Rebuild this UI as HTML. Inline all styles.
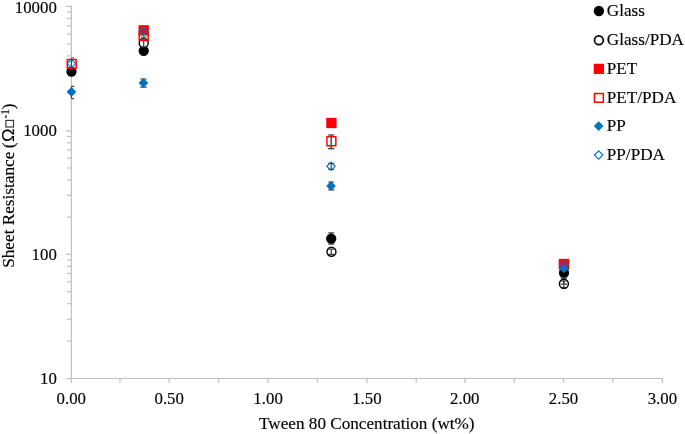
<!DOCTYPE html>
<html><head><meta charset="utf-8"><title>chart</title>
<style>
html,body{margin:0;padding:0;background:#fff;}
body{width:685px;height:434px;overflow:hidden;}
svg{display:block;will-change:transform;}
text{font-family:"Liberation Serif",serif;font-size:17.3px;fill:#000;stroke:#000;stroke-width:0.15px;}
</style></head><body>
<svg width="685" height="434" viewBox="0 0 685 434">
<rect width="685" height="434" fill="#fff"/>
<g stroke="#bfbfbf" stroke-width="1.2" fill="none">
<line x1="71.35" y1="5.86" x2="71.35" y2="382.98"/>
<line x1="65.95" y1="378.48" x2="663.00" y2="378.48"/>
<line x1="67.05" y1="341.09" x2="71.35" y2="341.09"/>
<line x1="67.05" y1="319.22" x2="71.35" y2="319.22"/>
<line x1="67.05" y1="303.70" x2="71.35" y2="303.70"/>
<line x1="67.05" y1="291.67" x2="71.35" y2="291.67"/>
<line x1="67.05" y1="281.83" x2="71.35" y2="281.83"/>
<line x1="67.05" y1="273.52" x2="71.35" y2="273.52"/>
<line x1="67.05" y1="266.32" x2="71.35" y2="266.32"/>
<line x1="67.05" y1="259.96" x2="71.35" y2="259.96"/>
<line x1="65.95" y1="254.28" x2="71.35" y2="254.28"/>
<line x1="67.05" y1="217.12" x2="71.35" y2="217.12"/>
<line x1="67.05" y1="195.38" x2="71.35" y2="195.38"/>
<line x1="67.05" y1="179.96" x2="71.35" y2="179.96"/>
<line x1="67.05" y1="167.99" x2="71.35" y2="167.99"/>
<line x1="67.05" y1="158.22" x2="71.35" y2="158.22"/>
<line x1="67.05" y1="149.95" x2="71.35" y2="149.95"/>
<line x1="67.05" y1="142.79" x2="71.35" y2="142.79"/>
<line x1="67.05" y1="136.48" x2="71.35" y2="136.48"/>
<line x1="65.95" y1="130.83" x2="71.35" y2="130.83"/>
<line x1="67.05" y1="93.39" x2="71.35" y2="93.39"/>
<line x1="67.05" y1="71.49" x2="71.35" y2="71.49"/>
<line x1="67.05" y1="55.95" x2="71.35" y2="55.95"/>
<line x1="67.05" y1="43.90" x2="71.35" y2="43.90"/>
<line x1="67.05" y1="34.05" x2="71.35" y2="34.05"/>
<line x1="67.05" y1="25.73" x2="71.35" y2="25.73"/>
<line x1="67.05" y1="18.51" x2="71.35" y2="18.51"/>
<line x1="67.05" y1="12.15" x2="71.35" y2="12.15"/>
<line x1="65.95" y1="6.46" x2="71.35" y2="6.46"/>
<line x1="119.98" y1="378.48" x2="119.98" y2="382.68"/>
<line x1="169.20" y1="378.48" x2="169.20" y2="382.98"/>
<line x1="218.67" y1="378.48" x2="218.67" y2="382.68"/>
<line x1="268.09" y1="378.48" x2="268.09" y2="382.98"/>
<line x1="317.44" y1="378.48" x2="317.44" y2="382.68"/>
<line x1="366.86" y1="378.48" x2="366.86" y2="382.98"/>
<line x1="416.20" y1="378.48" x2="416.20" y2="382.68"/>
<line x1="464.80" y1="378.48" x2="464.80" y2="382.98"/>
<line x1="514.17" y1="378.48" x2="514.17" y2="382.68"/>
<line x1="563.49" y1="378.48" x2="563.49" y2="382.98"/>
<line x1="613.05" y1="378.48" x2="613.05" y2="382.68"/>
<line x1="662.40" y1="378.48" x2="662.40" y2="382.98"/>
</g>
<text transform="translate(56.80 12.60) scale(0.973 1)" text-anchor="end">10000</text>
<text transform="translate(56.80 135.90) scale(0.973 1)" text-anchor="end">1000</text>
<text transform="translate(56.80 259.90) scale(0.973 1)" text-anchor="end">100</text>
<text transform="translate(56.80 383.50) scale(0.973 1)" text-anchor="end">10</text>
<text transform="translate(71.24 404.30) scale(0.973 1)" text-anchor="middle">0.00</text>
<text transform="translate(169.20 404.30) scale(0.973 1)" text-anchor="middle">0.50</text>
<text transform="translate(268.09 404.30) scale(0.973 1)" text-anchor="middle">1.00</text>
<text transform="translate(366.86 404.30) scale(0.973 1)" text-anchor="middle">1.50</text>
<text transform="translate(464.80 404.30) scale(0.973 1)" text-anchor="middle">2.00</text>
<text transform="translate(563.49 404.30) scale(0.973 1)" text-anchor="middle">2.50</text>
<text transform="translate(662.40 404.30) scale(0.973 1)" text-anchor="middle">3.00</text>
<text transform="translate(366.80 428.80) scale(0.992 1)" text-anchor="middle">Tween 80 Concentration (wt%)</text>
<text transform="translate(13.90 267.80) rotate(-90) scale(1.007 1)" style="font-size:17.1px;">Sheet Resistance</text>
<text transform="translate(13.90 148.20) rotate(-90) scale(1.007 1)" style="font-size:17.1px;">(</text>
<text transform="translate(14.1 142.0) rotate(-90) scale(1.10 1)" style="font-family:'Liberation Sans',sans-serif;font-size:16.4px" stroke="#000" stroke-width="0.45">Ω</text>
<rect x="5.9" y="120.4" width="7.6" height="6.6" fill="none" stroke="#3a3a3a" stroke-width="1.2"/>
<rect x="5.1" y="115.3" width="1.6" height="2.7" fill="#3a3a3a"/>
<text transform="translate(8.60 114.80) rotate(-90) scale(0.990 1)" style="font-size:11.7px;">1</text>
<text transform="translate(13.90 109.20) rotate(-90) scale(1.007 1)" style="font-size:17.1px;">)</text>
<path d="M71.45 86.40H74.15M71.45 98.60H74.15M71.45 86.40V98.60" stroke="#404040" stroke-width="1.2" fill="none" opacity="1"/>
<circle cx="71.45" cy="71.55" r="5.15" fill="#000000"/>
<path d="M71.45 58.00H73.95M71.45 68.00H73.95M71.45 58.00V68.00" stroke="#404040" stroke-width="1.2" fill="none" opacity="1"/>
<rect x="67.30" y="59.45" width="8.9" height="8.9" fill="none" stroke="#ff0000" stroke-width="1.5" stroke-linejoin="round"/>
<path d="M71.45 86.95L76.30 91.80L71.45 96.65L66.60 91.80Z" fill="#0070c0"/>
<path d="M71.45 59.40L75.65 63.60L71.45 67.80L67.25 63.60Z" fill="none" stroke="#0070c0" stroke-width="1.15"/>
<circle cx="143.70" cy="50.90" r="5.15" fill="#000000"/>
<circle cx="143.70" cy="42.95" r="4.5" fill="#fff" stroke="#000000" stroke-width="1.4"/>
<path d="M140.70 37.00H146.70M140.70 47.00H146.70M143.70 37.00V47.00" stroke="#404040" stroke-width="1.2" fill="none" opacity="1"/>
<rect x="138.55" y="25.15" width="10.3" height="10.3" fill="#ff0000"/>
<rect x="139.25" y="31.55" width="8.9" height="8.9" fill="none" stroke="#ff0000" stroke-width="1.5" stroke-linejoin="round"/>
<path d="M140.20 79.00H146.80M140.20 87.10H146.80M143.50 79.00V87.10" stroke="#404040" stroke-width="1.2" fill="none" opacity="1"/>
<path d="M143.40 78.05L148.25 82.90L143.40 87.75L138.55 82.90Z" fill="#0070c0"/>
<path d="M143.50 27.00L147.70 31.20L143.50 35.40L139.30 31.20Z" fill="none" stroke="#0070c0" stroke-width="1.15"/>
<path d="M328.20 232.80H334.20M328.20 244.20H334.20M331.20 232.80V244.20" stroke="#404040" stroke-width="1.2" fill="none" opacity="1"/>
<circle cx="331.20" cy="238.60" r="5.15" fill="#000000"/>
<path d="M328.20 249.10H334.20M328.20 254.30H334.20M331.20 249.10V254.30" stroke="#404040" stroke-width="1.2" fill="none" opacity="1"/>
<circle cx="331.45" cy="251.75" r="4.5" fill="none" stroke="#000000" stroke-width="1.4"/>
<rect x="326.25" y="117.85" width="10.3" height="10.3" fill="#ff0000"/>
<path d="M328.20 135.00H334.20M328.20 148.60H334.20M331.20 135.00V148.60" stroke="#404040" stroke-width="1.2" fill="none" opacity="1"/>
<rect x="326.95" y="136.85" width="8.9" height="8.9" fill="none" stroke="#ff0000" stroke-width="1.5" stroke-linejoin="round"/>
<path d="M328.20 135.00H334.20M328.20 148.60H334.20M331.20 135.00V148.60" stroke="#404040" stroke-width="1.2" fill="none" opacity="0.5"/>
<path d="M328.20 182.00H334.20M328.20 189.90H334.20M331.20 182.00V189.90" stroke="#404040" stroke-width="1.2" fill="none" opacity="1"/>
<path d="M331.00 181.05L335.85 185.90L331.00 190.75L326.15 185.90Z" fill="#0070c0"/>
<path d="M328.20 163.30H334.20M328.20 169.30H334.20M331.20 163.30V169.30" stroke="#404040" stroke-width="1.2" fill="none" opacity="1"/>
<path d="M331.00 162.10L335.20 166.30L331.00 170.50L326.80 166.30Z" fill="none" stroke="#0070c0" stroke-width="1.15"/>
<circle cx="564.00" cy="272.90" r="5.15" fill="#000000"/>
<path d="M560.50 278.20H567.10M560.50 284.20H567.10M563.80 278.20V284.20" stroke="#404040" stroke-width="1.2" fill="none" opacity="1"/>
<path d="M561.20 281.20H566.40M561.20 288.20H566.40M563.80 281.20V288.20" stroke="#404040" stroke-width="1.2" fill="none" opacity="1"/>
<circle cx="563.90" cy="283.75" r="4.5" fill="none" stroke="#000000" stroke-width="1.4"/>
<rect x="558.85" y="258.85" width="10.3" height="10.3" fill="#ff0000"/>
<rect x="559.55" y="260.45" width="8.9" height="8.9" fill="none" stroke="#ff0000" stroke-width="1.5" stroke-linejoin="round"/>
<path d="M563.80 263.55L568.65 268.40L563.80 273.25L558.95 268.40Z" fill="#0070c0"/>
<path d="M563.80 260.60L568.00 264.80L563.80 269.00L559.60 264.80Z" fill="none" stroke="#0070c0" stroke-width="1.15"/>
<circle cx="598.90" cy="11.00" r="5.15" fill="#000000"/>
<text transform="translate(606.80 16.15) scale(0.991 1)" text-anchor="start">Glass</text>
<circle cx="598.90" cy="40.20" r="4.4" fill="none" stroke="#000" stroke-width="1.7"/>
<text transform="translate(606.80 45.35) scale(0.991 1)" text-anchor="start">Glass/PDA</text>
<rect x="593.75" y="63.75" width="10.3" height="10.3" fill="#ff0000"/>
<text transform="translate(606.80 74.05) scale(0.991 1)" text-anchor="start">PET</text>
<rect x="594.45" y="93.45" width="8.9" height="8.9" fill="none" stroke="#ff0000" stroke-width="1.5" stroke-linejoin="round"/>
<text transform="translate(606.80 103.05) scale(0.991 1)" text-anchor="start">PET/PDA</text>
<path d="M598.70 121.25L603.55 126.10L598.70 130.95L593.85 126.10Z" fill="#0070c0"/>
<text transform="translate(606.80 131.25) scale(0.991 1)" text-anchor="start">PP</text>
<path d="M598.70 150.80L602.90 155.00L598.70 159.20L594.50 155.00Z" fill="none" stroke="#0070c0" stroke-width="1.15"/>
<text transform="translate(606.80 160.15) scale(0.991 1)" text-anchor="start">PP/PDA</text>
</svg>
</body></html>
